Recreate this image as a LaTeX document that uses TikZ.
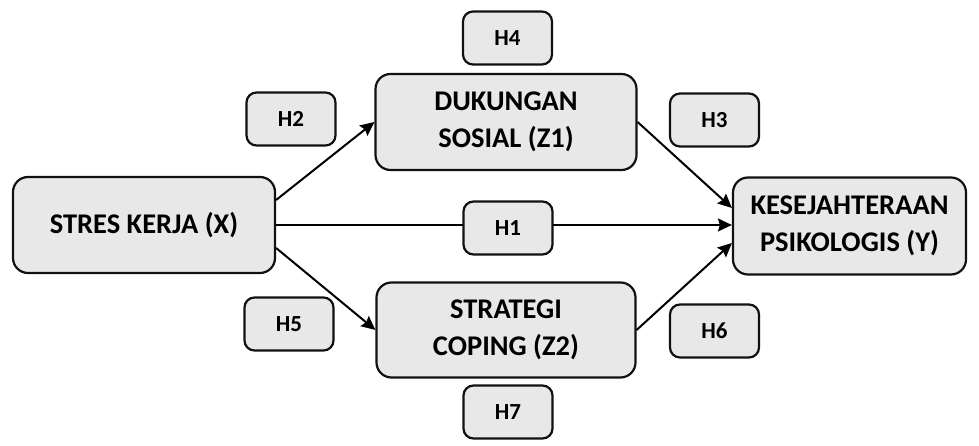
\documentclass[tikz,border=0pt]{standalone}
\usepackage{fontspec}
\setmainfont{Carlito}
\usetikzlibrary{arrows.meta,calc}
\definecolor{boxfill}{HTML}{E8E8E8}
\definecolor{edge}{HTML}{111111}
\tikzset{
  x=1pt, y=1pt,
  varbox/.style={draw=edge, line width=2.2pt, fill=boxfill, rounded corners=15pt,
    align=center, inner sep=0pt, font=\fontsize{28.5}{37}\selectfont\bfseries},
  hypbox/.style={draw=edge, line width=2.2pt, fill=boxfill, rounded corners=10pt,
    minimum width=89pt, minimum height=53pt, inner sep=0pt,
    font=\fontsize{23}{27}\selectfont\bfseries},
  link/.style={draw=black, line width=2pt, -{Stealth[length=14pt,width=13pt,inset=2pt]}}
}
\begin{document}
\begin{tikzpicture}
\useasboundingbox (0,0) rectangle (979,446);

% variables
\node[varbox, minimum width=262pt, minimum height=96pt] (X) at (144,221) {STRES KERJA (X)};
\node[varbox, minimum width=261pt, minimum height=96pt] (Z1) at (506,324) {DUKUNGAN\\SOSIAL (Z1)};
\node[varbox, minimum width=259pt, minimum height=95pt] (Z2) at (506,116) {STRATEGI\\COPING (Z2)};
\node[varbox, minimum width=233pt, minimum height=97pt] (Y) at (849.5,220) {KESEJAHTERAAN\\PSIKOLOGIS (Y)};

% paths
\draw[link] ($(X.east)+(0,25)$) -- (Z1.west);
\draw[link] ($(X.east)+(0,-23)$) -- (Z2.west);
\draw[link] (X.east) -- (X.east -| Y.west);
\draw[link] (Z1.east) -- ($(Y.west)+(0,18)$);
\draw[link] (Z2.east) -- ($(Y.west)+(0,-17)$);

% hypothesis labels
\node[hypbox] (H1) at (508,218) {H1};
\node[hypbox] (H2) at (291,327) {H2};
\node[hypbox] (H3) at (714.5,326) {H3};
\node[hypbox] (H4) at (507.5,408) {H4};
\node[hypbox] (H5) at (289,122) {H5};
\node[hypbox] (H6) at (714.5,115) {H6};
\node[hypbox] (H7) at (508,34) {H7};
\end{tikzpicture}
\end{document}
